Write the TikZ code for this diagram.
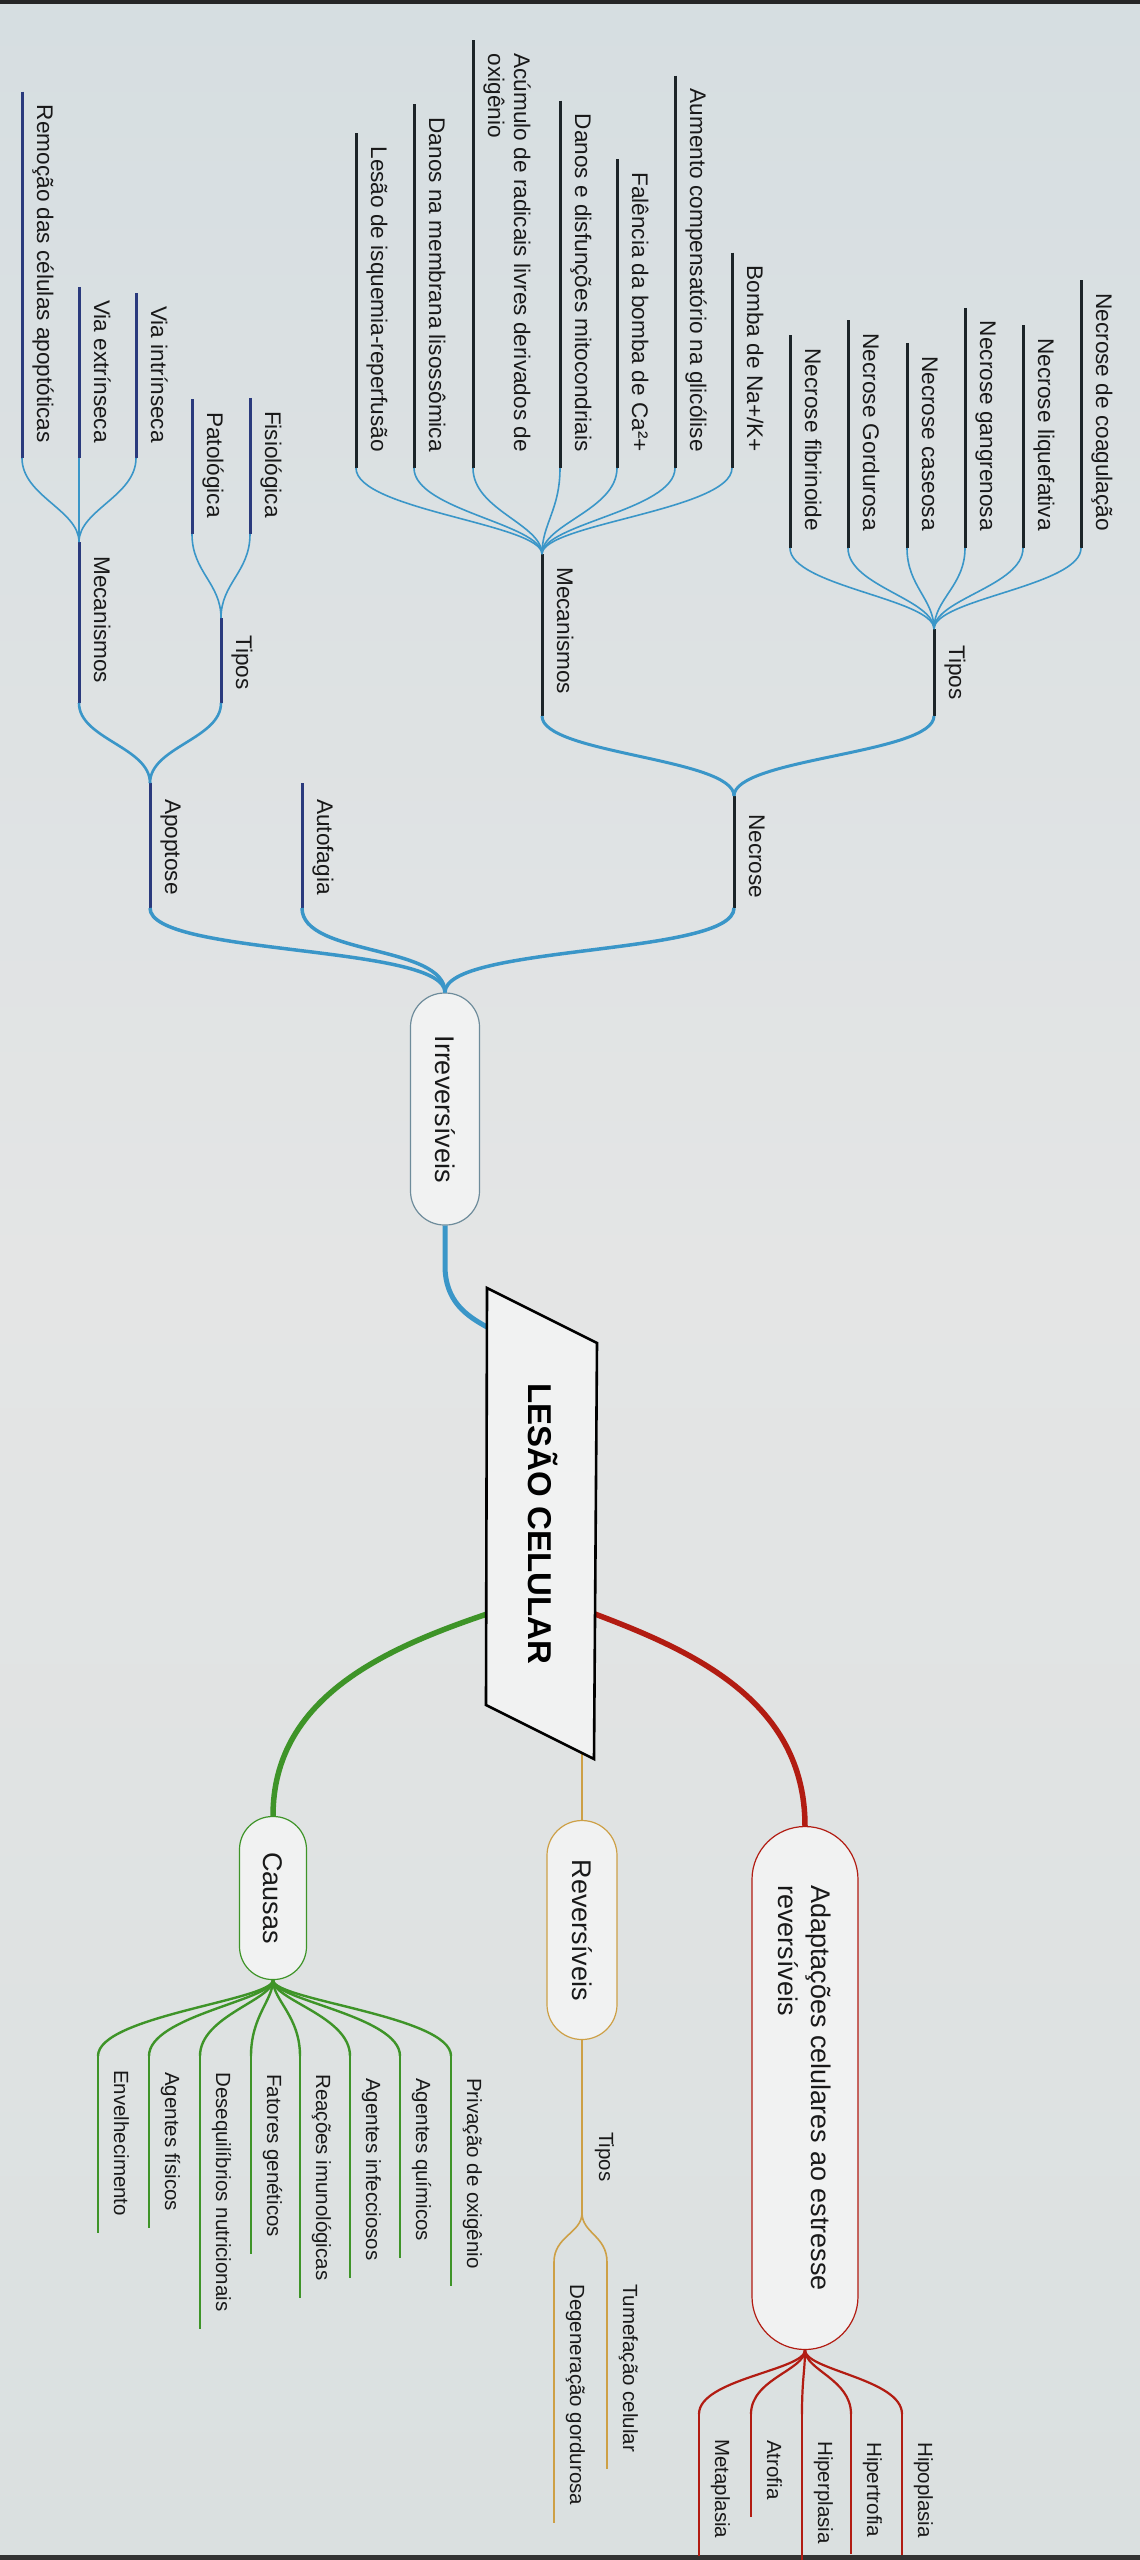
\documentclass[tikz,border=0pt]{standalone}
\usepackage{fontspec}
\setmainfont{Liberation Sans}
\usetikzlibrary{calc}
\definecolor{bg}{RGB}{228,229,229}
\definecolor{bgtop}{RGB}{214,222,225}
\definecolor{bgbot}{RGB}{218,224,224}
\definecolor{blu}{RGB}{58,150,200}
\definecolor{dk}{RGB}{28,36,40}
\definecolor{nav}{RGB}{42,58,125}
\definecolor{grn}{RGB}{62,148,40}
\definecolor{gld}{RGB}{205,160,70}
\definecolor{redb}{RGB}{178,28,18}
\definecolor{txt}{RGB}{25,25,25}
\definecolor{capfill}{RGB}{241,242,242}
\definecolor{capblu}{RGB}{110,140,155}
% left-side leaf: text end-aligned, underline to the left
\newcommand\mkleafL[6]{%
  \coordinate (#1-b) at (#2,#3);
  \node[lblA, anchor=base east] (#1) at (#2+15,#4) {#6};
  \draw[#5] ($(#1.base west -| #1-b)+(0,-13)$) coordinate (#1-t) -- (#1-b);
}
% right-side leaf: text start-aligned
\newcommand\mkleafR[6]{%
  \coordinate (#1-t) at (#2,#3);
  \node[lblB, anchor=base west] (#1) at (#2+16,#4) {#6};
  \draw[#5] (#1-t) -- ($(#1.base east -| #1-t)+(0,17)$) coordinate (#1-b);
}
\begin{document}
\begin{tikzpicture}[x=1pt,y=-1pt,
  lblA/.style={rotate=-90, inner sep=0pt, text=txt, font=\fontsize{22.6}{27}\selectfont},
  lblB/.style={rotate=-90, inner sep=0pt, text=txt, font=\fontsize{20.5}{25}\selectfont},
  uldk/.style={draw=dk, line width=3pt},
  ulnav/.style={draw=nav, line width=3pt},
  ulgrn/.style={draw=grn, line width=2.6pt},
  ulred/.style={draw=redb, line width=2.4pt},
  ulgld/.style={draw=gld, line width=1.8pt},
  fanb/.style={draw=blu, line width=1.6pt},
  capsule/.style={rotate=-90, fill=capfill, inner sep=0pt, line width=1.2pt, text=txt, font=\fontsize{27}{33}\selectfont}]
\useasboundingbox (0,0) rectangle (1140,2560);
\shade[top color=bgtop, bottom color=bgbot, middle color=bg] (0,0) rectangle (1140,2560);
\fill[black!85] (0,0) rectangle (1140,4);
\fill[black!80] (0,2555) rectangle (1140,2560);

% ---------- Necrose subtree ----------
\mkleafL{coag}{1081}{548}{531}{uldk}{Necrose de coagulação}
\mkleafL{liq}{1023}{548}{531}{uldk}{Necrose liquefativa}
\mkleafL{gang}{965}{548}{531}{uldk}{Necrose gangrenosa}
\mkleafL{cas}{907}{548}{531}{uldk}{Necrose caseosa}
\mkleafL{gord}{848}{548}{531}{uldk}{Necrose Gordurosa}
\mkleafL{fib}{790}{548}{531}{uldk}{Necrose fibrinoide}

\mkleafL{bomba}{732}{468}{452}{uldk}{Bomba de Na+/K+}
\mkleafL{aum}{675}{468}{452}{uldk}{Aumento compensatório na glicólise}
\mkleafL{fal}{617}{468}{452}{uldk}{Falência da bomba de Ca²+}
\mkleafL{mito}{560}{468}{452}{uldk}{Danos e disfunções mitocondriais}
\coordinate (acum-b) at (473,468);
\node[lblA, anchor=base east] (acum) at (473+15+26,452) {Acúmulo de radicais livres derivados de};
\node[lblA, anchor=base west] (acum2) at ($(acum.base west)+(-26,0)$) {oxigênio};
\draw[uldk] ($(acum.base west -| acum-b)+(0,-13)$) coordinate (acum-t) -- (acum-b);
\mkleafL{memb}{414}{468}{452}{uldk}{Danos na membrana lisossômica}
\mkleafL{isq}{356}{468}{452}{uldk}{Lesão de isquemia-reperfusão}

\coordinate (tipN-t) at (934,629); \coordinate (tipN-b) at (934,716);
\draw[uldk] (tipN-t) -- (tipN-b);
\node[lblA, anchor=base west] (tipN) at (949,645) {Tipos};
\coordinate (mecN-t) at (542,554); \coordinate (mecN-b) at (542,716);
\draw[uldk] (mecN-t) -- (mecN-b);
\node[lblA, anchor=base west] (mecN) at (557,567) {Mecanismos};
\coordinate (nec-t) at (734,796); \coordinate (nec-b) at (734,908);
\draw[uldk] (nec-t) -- (nec-b);
\node[lblA, anchor=base west] (nec) at (749,814) {Necrose};

\foreach \n in {coag,liq,gang,cas,gord,fib}
  \draw[fanb] (tipN-t) .. controls +(0,-30) and +(0,38) .. (\n-b);
\foreach \n in {bomba,aum,fal,mito,acum,memb,isq}
  \draw[fanb] (mecN-t) .. controls +(0,-30) and +(0,42) .. (\n-b);
\foreach \n in {mecN,tipN}
  \draw[blu, line width=3pt] (nec-t) .. controls +(0,-38) and +(0,38) .. (\n-b);

% ---------- Apoptose subtree ----------
\mkleafL{rem}{22}{458}{443}{ulnav}{Remoção das células apoptóticas}
\mkleafL{vext}{79}{458}{443}{ulnav}{Via extrínseca}
\mkleafL{vint}{136}{458}{443}{ulnav}{Via intrínseca}
\mkleafL{fisio}{250}{534}{518}{ulnav}{Fisiológica}
\mkleafL{pat}{192}{534}{518}{ulnav}{Patológica}

\coordinate (mecA-t) at (79,542); \coordinate (mecA-b) at (79,703);
\draw[ulnav] (mecA-t) -- (mecA-b);
\node[lblA, anchor=base west] (mecA) at (94,556) {Mecanismos};
\coordinate (tipA-t) at (221,618); \coordinate (tipA-b) at (221,703);
\draw[ulnav] (tipA-t) -- (tipA-b);
\node[lblA, anchor=base west] (tipA) at (236,635) {Tipos};
\coordinate (apop-t) at (150,783); \coordinate (apop-b) at (150,908);
\draw[ulnav] (apop-t) -- (apop-b);
\node[lblA, anchor=base west] (apop) at (165,799) {Apoptose};
\coordinate (auto-t) at (302,783); \coordinate (auto-b) at (302,908);
\draw[ulnav] (auto-t) -- (auto-b);
\node[lblA, anchor=base west] (auto) at (317,799) {Autofagia};

\foreach \n in {rem,vext,vint}
  \draw[fanb] (mecA-t) .. controls +(0,-32) and +(0,38) .. (\n-b);
\foreach \n in {fisio,pat}
  \draw[fanb] (tipA-t) .. controls +(0,-35) and +(0,38) .. (\n-b);
\foreach \n in {mecA,tipA}
  \draw[blu, line width=2.6pt] (apop-t) .. controls +(0,-36) and +(0,36) .. (\n-b);

% ---------- Irreversiveis ----------
\node[capsule, draw=capblu, minimum width=232pt, minimum height=69pt, rounded corners=34pt] (irr) at (445,1109) {Irreversíveis};
\foreach \n in {nec,auto,apop}
  \draw[blu, line width=3.5pt] (irr.west) .. controls +(0,-48) and +(0,48) .. (\n-b);

% ---------- right side capsules ----------
\node[capsule, draw=grn, minimum width=163pt, minimum height=67pt, rounded corners=33pt] (caus) at (273,1898) {Causas};
\node[capsule, draw=gld, minimum width=219pt, minimum height=70pt, rounded corners=35pt] (rev) at (582,1930) {Reversíveis};
\node[capsule, draw=redb, minimum width=523pt, minimum height=106pt, rounded corners=53pt, align=left] (adapt) at (805,2088) {Adaptações celulares ao estresse\\reversíveis};

% ---------- root ----------
\coordinate (rL1) at (487,1327);
\coordinate (rL2) at (487,1614);
\coordinate (rR) at (595,1614);
\coordinate (rB) at (582,1753);
\draw[blu, line width=5pt] (irr.east) -- ++(0,40) .. controls +(0,36) and +(-20,-11) .. (rL1);
\draw[grn, line width=5.5pt] (rL2) .. controls (380,1650) and (273,1700) .. (caus.west);
\draw[redb, line width=5.5pt] (rR) .. controls (690,1650) and (805,1700) .. (adapt.west);
\draw[gld, line width=2.5pt] (rB) -- (rev.west);
\coordinate (pA) at (487,1288); \coordinate (pB) at (597,1343);
\coordinate (pC) at (594,1759); \coordinate (pD) at (486,1705);
\draw[fill=capfill, draw=black, line width=2.6pt, line join=miter] (pA) -- (pB) -- (pC) -- (pD) -- cycle;
\node[rotate=-90, inner sep=0pt, text=black, font=\bfseries\fontsize{33}{40}\selectfont] (root) at (543,1524) {LESÃO CELULAR};

% ---------- Causas leaves ----------
\mkleafR{priv}{451}{2056}{2078}{ulgrn}{Privação de oxigênio}
\mkleafR{quim}{400}{2056}{2078}{ulgrn}{Agentes químicos}
\mkleafR{inf}{350}{2056}{2078}{ulgrn}{Agentes infecciosos}
\mkleafR{imu}{300}{2056}{2074}{ulgrn}{Reações imunológicas}
\mkleafR{gen}{251}{2056}{2074}{ulgrn}{Fatores genéticos}
\mkleafR{nut}{200}{2056}{2072}{ulgrn}{Desequilíbrios nutricionais}
\mkleafR{afis}{149}{2056}{2072}{ulgrn}{Agentes físicos}
\mkleafR{env}{98}{2056}{2070}{ulgrn}{Envelhecimento}
\foreach \n in {priv,quim,inf,imu,gen,nut,afis,env}
  \draw[grn, line width=2.4pt] (caus.east) .. controls +(0,20) and +(0,-40) .. (\n-t);

% ---------- Reversiveis ----------
\coordinate (revT-b) at (582,2213);
\draw[gld, line width=1.8pt] (rev.east) -- (revT-b);
\node[lblB, anchor=base west] (revT) at (599,2132) {Tipos};
\mkleafR{tum}{607}{2262}{2284}{ulgld}{Tumefação celular}
\mkleafR{deg}{554}{2262}{2284}{ulgld}{Degeneração gordurosa}
\foreach \n in {tum,deg}
  \draw[gld, line width=1.6pt] (revT-b) .. controls +(0,20) and +(0,-26) .. (\n-t);

% ---------- Adaptacoes ----------
\mkleafR{hipo}{902}{2414}{2442}{ulred}{Hipoplasia}
\mkleafR{hipt}{851}{2414}{2442}{ulred}{Hipertrofia}
\mkleafR{hipp}{802}{2414}{2441}{ulred}{Hiperplasia}
\mkleafR{atro}{751}{2414}{2440}{ulred}{Atrofia}
\mkleafR{meta}{699}{2414}{2439}{ulred}{Metaplasia}
\foreach \n in {hipo,hipt,hipp,atro,meta}
  \draw[redb, line width=2.2pt] (adapt.east) .. controls +(0,20) and +(0,-35) .. (\n-t);
\end{tikzpicture}
\end{document}
